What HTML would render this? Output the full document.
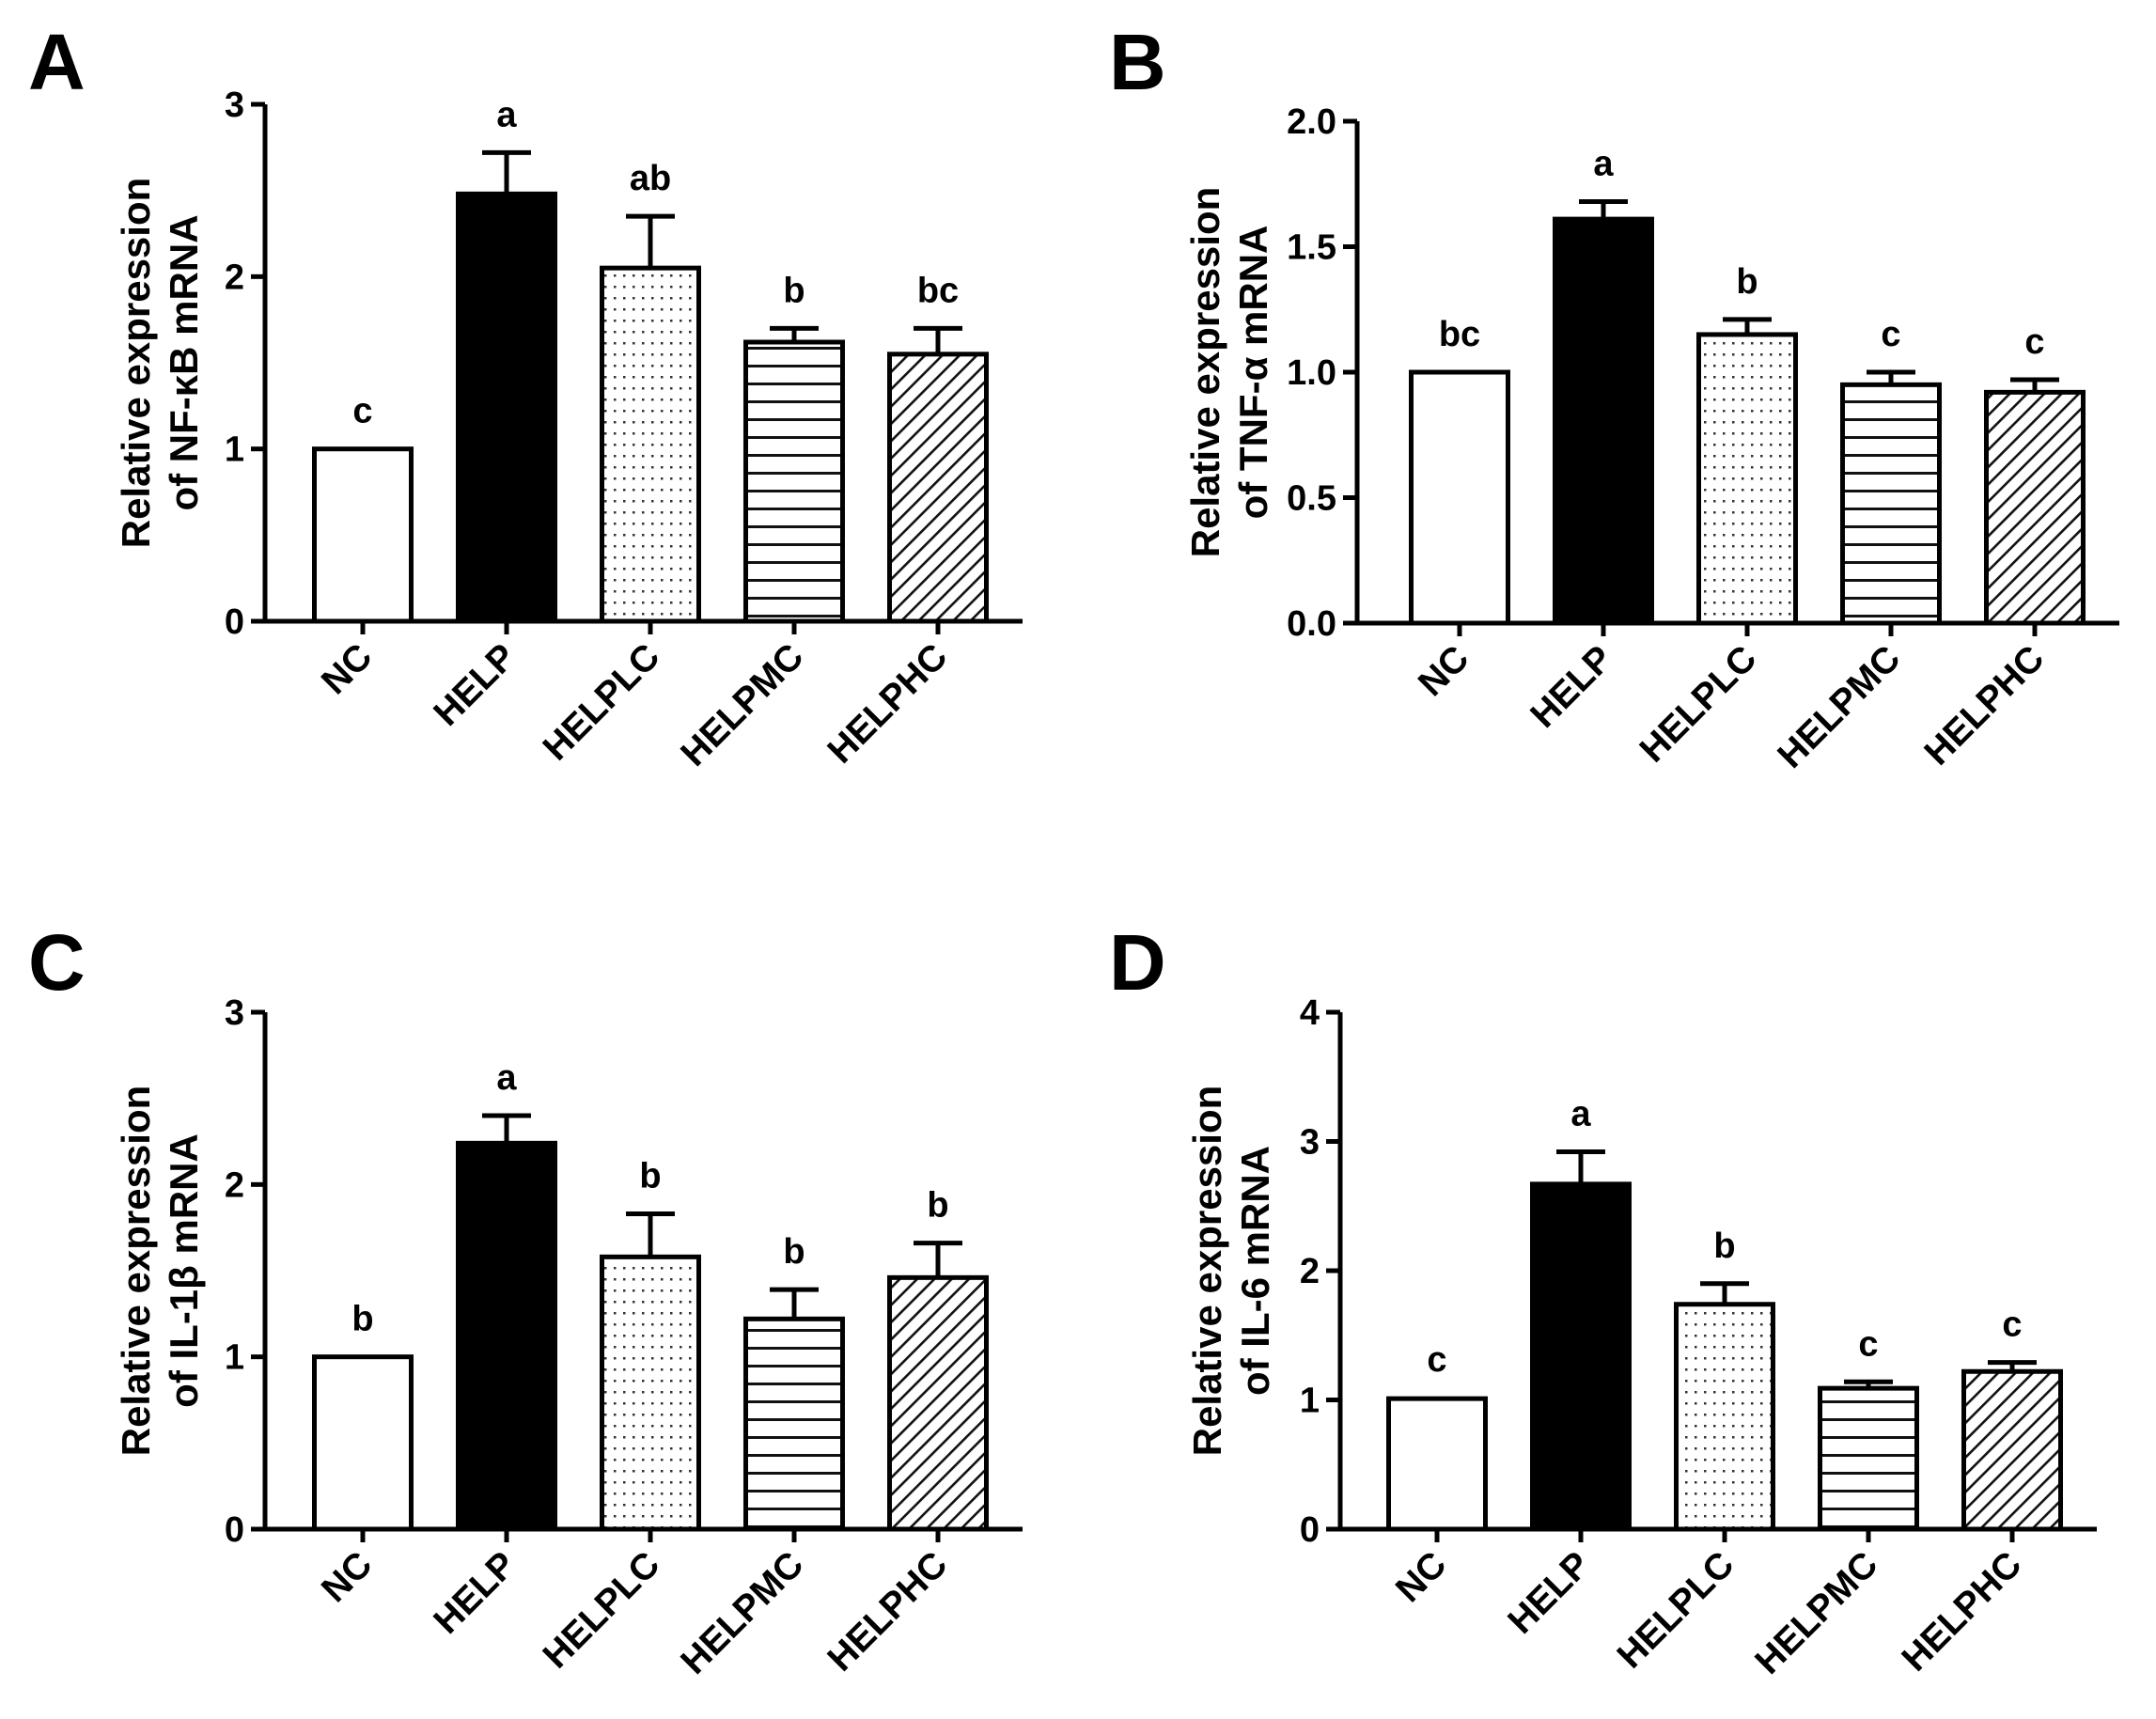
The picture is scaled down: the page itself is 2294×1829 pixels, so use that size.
<!DOCTYPE html>
<html><head><meta charset="utf-8">
<style>
html,body{margin:0;padding:0;background:#fff;}
svg{display:block;font-family:"Liberation Sans",Arial,sans-serif;font-weight:bold;}
</style></head>
<body>
<svg id="fig" width="2294" height="1829" viewBox="0 0 2294 1829">
<defs>
<pattern id="dots" width="10" height="12" patternUnits="userSpaceOnUse"><rect width="10" height="12" fill="#fff"/><rect x="3" y="4" width="2.5" height="2.5" fill="#333"/></pattern>
<pattern id="hlines" width="10" height="19" patternUnits="userSpaceOnUse"><rect width="10" height="19" fill="#fff"/><rect x="0" y="8" width="10" height="3" fill="#111"/></pattern>
<pattern id="diag" width="13" height="13" patternUnits="userSpaceOnUse" patternTransform="rotate(45)"><rect width="13" height="13" fill="#fff"/><rect x="0" y="0" width="2.6" height="13" fill="#111"/></pattern>
</defs>
</svg>
<script>
const categories = ["NC","HELP","HELPLC","HELPMC","HELPHC"];
const valuesA = [1.0, 2.48, 2.05, 1.62, 1.55];
const errorsA = [0.0, 0.24, 0.30, 0.08, 0.15];
const lettersA = ["c","a","ab","b","bc"];
const ticksA = ["0","1","2","3"];
const valuesB = [1.0, 1.61, 1.15, 0.95, 0.92];
const errorsB = [0.0, 0.07, 0.06, 0.05, 0.05];
const lettersB = ["bc","a","b","c","c"];
const ticksB = ["0.0","0.5","1.0","1.5","2.0"];
const valuesC = [1.0, 2.24, 1.58, 1.22, 1.46];
const errorsC = [0.0, 0.16, 0.25, 0.17, 0.20];
const lettersC = ["b","a","b","b","b"];
const ticksC = ["0","1","2","3"];
const valuesD = [1.01, 2.67, 1.74, 1.09, 1.22];
const errorsD = [0.01, 0.25, 0.16, 0.05, 0.07];
const lettersD = ["c","a","b","c","c"];
const ticksD = ["0","1","2","3","4"];

const NS="http://www.w3.org/2000/svg";
const svg=document.getElementById('fig');
function mk(tag,attrs,parent){const e=document.createElementNS(NS,tag);for(const k in attrs)e.setAttribute(k,attrs[k]);(parent||svg).appendChild(e);return e;}
const fills=["#fff","#000","url(#dots)","url(#hlines)","url(#diag)"];

function panel(id,letter,lx,ly,ax,top,zero,ymax,firstC,titleOff,titleLine2,vals,errs,lets,ticks){
  const g=mk('g',{});
  
  
  const spacing=153, bw=103;
  const y=v=>zero-(v/ymax)*(zero-top);
  const xc=i=>firstC+i*spacing;
  const pl=mk('text',{x:lx,y:ly,'font-size':84,fill:'#000'},g);pl.textContent=letter;
  
  
  const cy=(top+zero)/2;
  const t=mk('text',{transform:`translate(${ax-titleOff},${cy}) rotate(-90)`,'text-anchor':'middle','font-size':42,fill:'#000'},g);
  
  
  const t1=mk('tspan',{x:0,y:-22},t);t1.textContent='Relative expression';
  const t2=mk('tspan',{x:0,y:29},t);t2.textContent=titleLine2;
  vals.forEach((v,i)=>{
    const b=mk('rect',{x:xc(i)-bw/2,y:y(v),width:bw,height:zero-y(v),fill:fills[i],stroke:'#000','stroke-width':5},g);
    
    
    const et=y(v+errs[i]);
    if(errs[i]>0.02){
      const e=mk('path',{d:`M${xc(i)},${y(v)} V${et} M${xc(i)-26},${et} H${xc(i)+26}`,stroke:'#000','stroke-width':5,fill:'none'},g);
      
      
    }
    const l=mk('text',{x:xc(i),y:Math.min(et,y(v))-28,'text-anchor':'middle','font-size':38,fill:'#000'},g);l.textContent=lets[i];
    
    
    const tk=mk('line',{x1:xc(i),x2:xc(i),y1:zero,y2:zero+14,stroke:'#000','stroke-width':5},g);
    
    
    const cl=mk('text',{transform:`translate(${xc(i)+12},${zero+40}) rotate(-45)`,'text-anchor':'end','font-size':39,fill:'#000'},g);cl.textContent=categories[i];
    
    
  });
  const ya=mk('line',{x1:ax,x2:ax,y1:top,y2:zero+2.5,stroke:'#000','stroke-width':5},g);
  
  
  const xa=mk('line',{x1:ax-15,x2:xc(4)+90,y1:zero,y2:zero,stroke:'#000','stroke-width':5},g);
  
  
  ticks.forEach((tl,i)=>{
    const v=parseFloat(tl);
    const tk=mk('line',{x1:ax-15,x2:ax,y1:y(v),y2:y(v),stroke:'#000','stroke-width':5},g);
    
    
    const tx=mk('text',{x:ax-22,y:y(v)+13,'text-anchor':'end','font-size':38,fill:'#000'},g);tx.textContent=tl;
    
    
  });
}
panel('a','A',30,95,282,111,661,3,386,101,'of NF-\u03baB mRNA',valuesA,errorsA,lettersA,ticksA);
panel('b','B',1180,95,1444,129,663,2,1553,125,'of TNF-\u03b1 mRNA',valuesB,errorsB,lettersB,ticksB);
panel('c','C',30,1053,282,1077,1627,3,386,101,'of IL-1\u03b2 mRNA',valuesC,errorsC,lettersC,ticksC);
panel('d','D',1180,1053,1426,1077,1627,4,1529,105,'of IL-6 mRNA',valuesD,errorsD,lettersD,ticksD);
</script>
</body></html>
